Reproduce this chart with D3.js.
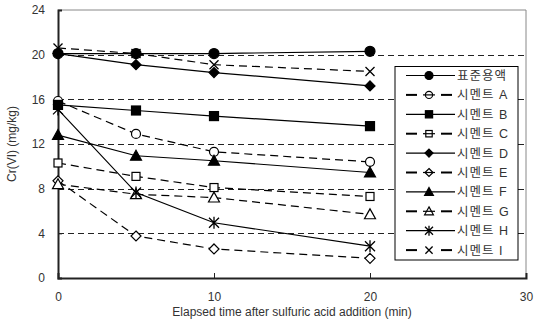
<!DOCTYPE html>
<html lang="ko">
<head>
<meta charset="UTF-8">
<script src="https://d3js.org/d3.v7.min.js"></script>
<style>
  body { margin: 0; background: #fff; }
  text { font-family: "Liberation Sans", Arial, "Noto Sans CJK KR", sans-serif; fill: #333; }
</style>
</head>
<body>
<svg id="chart" width="534" height="328"></svg>
<script>
const times = [0, 5, 10, 20];
const seriesNames = ["표준용액", "시멘트 A", "시멘트 B", "시멘트 C", "시멘트 D", "시멘트 E", "시멘트 F", "시멘트 G", "시멘트 H", "시멘트 I"];
const valStd = [20.1, 20.1, 20.1, 20.3];
const valA = [15.85, 12.9, 11.3, 10.4];
const valB = [15.5, 15.0, 14.5, 13.6];
const valC = [10.3, 9.1, 8.1, 7.3];
const valD = [20.1, 19.1, 18.4, 17.2];
const valE = [8.7, 3.76, 2.6, 1.76];
const valF = [12.8, 10.95, 10.5, 9.45];
const valG = [8.4, 7.5, 7.2, 5.7];
const valH = [15.1, 7.65, 4.95, 2.85];
const valI = [20.6, 20.1, 19.1, 18.5];
const xTicks = [0, 10, 20, 30];
const yTicks = [0, 4, 8, 12, 16, 20, 24];
const gridValues = [4, 8, 12, 16, 20];

const allValues = [valStd, valA, valB, valC, valD, valE, valF, valG, valH, valI];
// marker style per series: [shape, filled, dashed]
const styles = [
  ["circle", true, false], ["circle", false, true], ["square", true, false], ["square", false, true],
  ["diamond", true, false], ["diamond", false, true], ["triangle", true, false], ["triangle", false, true],
  ["asterisk", true, false], ["cross", true, true]
];

const svg = d3.select("#chart");
const margin = { top: 10, right: 8, bottom: 50, left: 58 };
const width = 534, height = 328;

const x = d3.scaleLinear().domain([0, 30]).range([margin.left, width - margin.right]);
const y = d3.scaleLinear().domain([0, 24]).range([height - margin.bottom, margin.top]);

// plot frame (top/right)
svg.append("path")
  .attr("d", `M${x(0)},${y(24)}H${x(30)}V${y(0)}`)
  .attr("fill", "none").attr("stroke", "#888").attr("stroke-width", 1);

// grid
svg.append("g").selectAll("line").data(gridValues).join("line")
  .attr("x1", x(0)).attr("x2", x(30))
  .attr("y1", d => Math.round(y(d)) + 0.5).attr("y2", d => Math.round(y(d)) + 0.5)
  .attr("stroke", "#222").attr("stroke-width", 1).attr("stroke-dasharray", "6,4");

// axes
const xAxis = svg.append("g")
  .attr("transform", `translate(0,${y(0)})`)
  .call(d3.axisBottom(x).tickValues(xTicks).tickSize(-5).tickPadding(14));
const yAxis = svg.append("g")
  .attr("transform", `translate(${x(0)},0)`)
  .call(d3.axisLeft(y).tickValues(yTicks).tickSize(-4).tickPadding(13));
[xAxis, yAxis].forEach(a => {
  a.select(".domain").attr("stroke", "#222").attr("stroke-width", 2);
  a.selectAll(".tick line").attr("stroke", "#222");
  a.selectAll("text").style("font-size", "12px").attr("fill", "#333");
});

svg.append("text")
  .attr("x", (x(0) + x(30)) / 2).attr("y", 316)
  .attr("text-anchor", "middle").style("font-size", "12px")
  .text("Elapsed time after sulfuric acid addition (min)");
svg.append("text")
  .attr("transform", `translate(16,${(y(0) + y(24)) / 2}) rotate(-90)`)
  .attr("text-anchor", "middle").style("font-size", "12px")
  .text("Cr(VI) (mg/kg)");

function drawMarker(g, shape, filled, cx, cy, k = 1) {
  const fill = filled ? "#000" : "#fff";
  if (shape === "circle") {
    g.append("circle").attr("cx", cx).attr("cy", cy).attr("r", (filled ? 5 : 4.5) * k)
      .attr("fill", fill).attr("stroke", "#000").attr("stroke-width", 1.2);
  } else if (shape === "square") {
    const s = (filled ? 9 : 8) * k;
    g.append("rect").attr("x", cx - s / 2).attr("y", cy - s / 2).attr("width", s).attr("height", s)
      .attr("fill", fill).attr("stroke", "#000").attr("stroke-width", 1.2);
  } else if (shape === "diamond") {
    const s = 5 * k;
    g.append("path").attr("d", `M${cx},${cy - s}L${cx + s},${cy}L${cx},${cy + s}L${cx - s},${cy}Z`)
      .attr("fill", fill).attr("stroke", "#000").attr("stroke-width", 1.2);
  } else if (shape === "triangle") {
    const s = 5.5 * k;
    g.append("path").attr("d", `M${cx},${cy - s}L${cx + s},${cy + s * 0.8}L${cx - s},${cy + s * 0.8}Z`)
      .attr("fill", fill).attr("stroke", "#000").attr("stroke-width", 1.2);
  } else if (shape === "asterisk") {
    const s = 5 * k;
    g.append("path").attr("d",
      `M${cx - s},${cy - s}L${cx + s},${cy + s}M${cx - s},${cy + s}L${cx + s},${cy - s}M${cx},${cy - s - 1}V${cy + s + 1}`)
      .attr("stroke", "#000").attr("stroke-width", 1.3);
  } else if (shape === "cross") {
    const s = 4.5 * k;
    g.append("path").attr("d", `M${cx - s},${cy - s}L${cx + s},${cy + s}M${cx - s},${cy + s}L${cx + s},${cy - s}`)
      .attr("stroke", "#000").attr("stroke-width", 1.3);
  }
}

const line = d3.line().x((d, i) => x(times[i])).y(d => y(d));

allValues.forEach((vals, k) => {
  const [shape, filled, dashed] = styles[k];
  const g = svg.append("g");
  g.append("path").datum(vals)
    .attr("d", line).attr("fill", "none").attr("stroke", "#000")
    .attr("stroke-width", 1.2)
    .attr("stroke-dasharray", dashed ? "8,5" : null);
  vals.forEach((v, i) => drawMarker(g, shape, filled, x(times[i]), y(v)));
});

// legend
const lg = svg.append("g");
const lx = 395, ly = 66.5, lw = 123, lh = 193.5;
lg.append("rect").attr("x", lx).attr("y", ly).attr("width", lw).attr("height", lh)
  .attr("fill", "#fff").attr("stroke", "#000").attr("stroke-width", 1);
seriesNames.forEach((name, k) => {
  const [shape, filled, dashed] = styles[k];
  const ry = ly + 9 + k * 19.4;
  const row = lg.append("g");
  if (dashed) {
    row.append("line").attr("x1", 406).attr("x2", 417).attr("y1", ry).attr("y2", ry)
      .attr("stroke", "#000").attr("stroke-width", 2);
    row.append("line").attr("x1", 441).attr("x2", 452).attr("y1", ry).attr("y2", ry)
      .attr("stroke", "#000").attr("stroke-width", 2);
  } else {
    row.append("line").attr("x1", 406).attr("x2", 455).attr("y1", ry).attr("y2", ry)
      .attr("stroke", "#000").attr("stroke-width", 1.2);
  }
  drawMarker(row, shape, filled, 429, ry, 0.8);
  if (dashed && shape !== "cross") {
    row.append("line").attr("x1", 423).attr("x2", 435).attr("y1", ry).attr("y2", ry)
      .attr("stroke", "#000").attr("stroke-width", 1.2);
  }
  row.append("text").attr("x", 457).attr("y", ry + 4.5)
    .style("font-size", "12.5px").style("letter-spacing", "1px").text(name);
});
</script>
</body>
</html>
